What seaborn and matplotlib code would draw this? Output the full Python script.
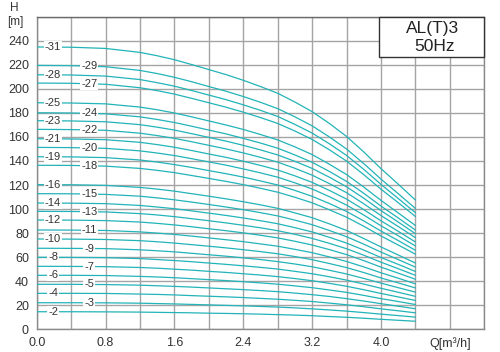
import matplotlib
matplotlib.use("Agg")
import matplotlib.pyplot as plt
import seaborn as sns
import numpy as np
import pandas as pd
from matplotlib.patches import Rectangle

# ---------------- data ----------------
flow = [0.0, 0.4, 0.8, 1.2, 1.4, 1.6, 1.8, 2.0, 2.2, 2.4,
        2.6, 2.8, 3.0, 3.2, 3.4, 3.6, 3.8, 4.0, 4.2, 4.4]

h2 = [14.6, 14.6, 14.5, 14.3, 14.1, 13.9, 13.7, 13.4, 13.2, 12.9, 12.6, 12.2, 11.8, 11.3, 10.6, 10.0, 9.2, 8.3, 7.5, 6.7]
h3 = [22.1, 22.1, 22.0, 21.7, 21.4, 21.1, 20.7, 20.3, 19.9, 19.5, 19.0, 18.5, 17.8, 17.0, 16.1, 15.1, 13.9, 12.6, 11.4, 10.1]
h4 = [29.9, 29.9, 29.8, 29.3, 29.0, 28.6, 28.0, 27.5, 27.0, 26.4, 25.7, 25.0, 24.1, 23.1, 21.8, 20.4, 18.8, 17.0, 15.4, 13.7]
h5 = [37.4, 37.4, 37.2, 36.7, 36.2, 35.7, 35.1, 34.4, 33.7, 33.0, 32.2, 31.3, 30.1, 28.8, 27.3, 25.5, 23.5, 21.3, 19.2, 17.1]
h6 = [44.9, 44.9, 44.7, 44.0, 43.5, 42.9, 42.1, 41.3, 40.5, 39.6, 38.6, 37.5, 36.1, 34.6, 32.7, 30.7, 28.2, 25.5, 23.1, 20.6]
h7 = [52.4, 52.3, 52.1, 51.4, 50.8, 50.0, 49.2, 48.2, 47.3, 46.2, 45.1, 43.8, 42.2, 40.4, 38.2, 35.8, 32.9, 29.8, 26.9, 24.0]
h8 = [59.9, 59.8, 59.6, 58.8, 58.0, 57.2, 56.2, 55.1, 54.0, 52.8, 51.5, 50.1, 48.2, 46.2, 43.7, 40.9, 37.6, 34.1, 30.8, 27.4]
h9 = [67.4, 67.3, 67.1, 66.1, 65.3, 64.4, 63.2, 62.0, 60.8, 59.4, 58.0, 56.3, 54.3, 52.0, 49.1, 46.0, 42.3, 38.4, 34.6, 30.9]
h10 = [75.1, 75.0, 74.7, 73.7, 72.8, 71.7, 70.4, 69.1, 67.7, 66.2, 64.6, 62.8, 60.5, 57.9, 54.7, 51.3, 47.2, 42.7, 38.6, 34.4]
h11 = [82.6, 82.5, 82.2, 81.0, 80.0, 78.9, 77.5, 76.0, 74.5, 72.9, 71.0, 69.1, 66.5, 63.7, 60.2, 56.4, 51.9, 47.0, 42.5, 37.8]
h12 = [90.9, 90.8, 90.4, 89.2, 88.1, 86.8, 85.3, 83.6, 82.0, 80.2, 78.2, 76.0, 73.2, 70.1, 66.3, 62.1, 57.1, 51.7, 46.7, 41.6]
h13 = [98.1, 98.0, 97.6, 96.2, 95.1, 93.7, 92.0, 90.3, 88.5, 86.5, 84.4, 82.0, 79.0, 75.6, 71.5, 67.0, 61.6, 55.8, 50.4, 44.9]
h14 = [105.0, 104.9, 104.5, 103.0, 101.7, 100.3, 98.5, 96.6, 94.7, 92.6, 90.3, 87.8, 84.5, 81.0, 76.5, 71.7, 65.9, 59.7, 54.0, 48.1]
h15 = [112.8, 112.7, 112.2, 110.7, 109.3, 107.7, 105.8, 103.8, 101.7, 99.5, 97.0, 94.3, 90.8, 87.0, 82.2, 77.0, 70.8, 64.2, 58.0, 51.7]
h16 = [120.3, 120.2, 119.7, 118.0, 116.6, 114.9, 112.8, 110.7, 108.5, 106.1, 103.5, 100.6, 96.8, 92.8, 87.7, 82.2, 75.5, 68.5, 61.8, 55.1]
h18 = [136.4, 136.3, 135.7, 133.8, 132.2, 130.3, 127.9, 125.5, 123.0, 120.3, 117.3, 114.0, 109.8, 105.2, 99.4, 93.2, 85.7, 77.6, 70.1, 62.5]
h19 = [143.5, 143.4, 142.8, 140.8, 139.1, 137.0, 134.6, 132.0, 129.4, 126.6, 123.4, 120.0, 115.5, 110.6, 104.6, 98.0, 90.1, 81.7, 73.8, 65.7]
h20 = [151.3, 151.1, 150.5, 148.4, 146.6, 144.5, 141.9, 139.2, 136.5, 133.4, 130.1, 126.5, 121.8, 116.7, 110.3, 103.3, 95.0, 86.1, 77.8, 69.3]
h21 = [158.5, 158.3, 157.7, 155.5, 153.6, 151.4, 148.7, 145.8, 143.0, 139.8, 136.3, 132.5, 127.6, 122.2, 115.5, 108.3, 99.5, 90.2, 81.5, 72.6]
h22 = [166.3, 166.1, 165.5, 163.1, 161.1, 158.8, 156.0, 153.0, 150.0, 146.7, 143.0, 139.0, 133.9, 128.2, 121.2, 113.6, 104.4, 94.6, 85.5, 76.2]
h23 = [173.5, 173.3, 172.6, 170.2, 168.1, 165.7, 162.7, 159.6, 156.5, 153.0, 149.2, 145.0, 139.7, 133.8, 126.5, 118.5, 109.0, 98.7, 89.2, 79.5]
h24 = [180.1, 179.9, 179.2, 176.7, 174.5, 172.0, 168.9, 165.7, 162.5, 158.8, 154.9, 150.6, 145.0, 138.9, 131.3, 123.0, 113.1, 102.5, 92.6, 82.5]
h25 = [188.4, 188.2, 187.5, 184.8, 182.6, 179.9, 176.7, 173.3, 169.9, 166.2, 162.0, 157.5, 151.7, 145.3, 137.3, 128.7, 118.3, 107.2, 96.8, 86.3]
h27 = [204.8, 204.6, 203.8, 200.9, 198.5, 195.6, 192.1, 188.4, 184.7, 180.6, 176.1, 171.2, 164.9, 157.9, 149.3, 139.9, 128.6, 116.5, 105.3, 93.8]
h28 = [211.7, 211.5, 210.6, 207.7, 205.1, 202.2, 198.6, 194.8, 191.0, 186.7, 182.1, 177.0, 170.4, 163.2, 154.3, 144.6, 133.0, 120.5, 108.8, 97.0]
h29 = [219.5, 219.3, 218.4, 215.3, 212.7, 209.6, 205.9, 201.9, 198.0, 193.6, 188.8, 183.5, 176.7, 169.2, 160.0, 149.9, 137.8, 124.9, 112.8, 100.5]
h31 = [234.8, 234.6, 233.6, 230.3, 227.5, 224.2, 220.2, 216.0, 211.8, 207.1, 201.9, 196.3, 189.0, 181.0, 171.2, 160.4, 147.5, 133.6, 120.7, 107.5]

curves = {2: h2, 3: h3, 4: h4, 5: h5, 6: h6, 7: h7, 8: h8, 9: h9, 10: h10,
          11: h11, 12: h12, 13: h13, 14: h14, 15: h15, 16: h16, 18: h18,
          19: h19, 20: h20, 21: h21, 22: h22, 23: h23, 24: h24, 25: h25,
          27: h27, 28: h28, 29: h29, 31: h31}

left_labels = [31, 28, 25, 23, 21, 19, 16, 14, 12, 10, 8, 6, 4, 2]
right_labels = [29, 27, 24, 22, 20, 18, 15, 13, 11, 9, 7, 5, 3]

x_tick_vals = [0.0, 0.8, 1.6, 2.4, 3.2, 4.0, 4.8]
x_tick_labels = ["0.0", "0.8", "1.6", "2.4", "3.2", "4.0", "Q[m³/h]"]
y_tick_vals = list(range(0, 241, 20))
title_lines = ["AL(T)3", "50Hz"]

# ---------------- style ----------------
sns.set_style("white")
plt.rcParams["font.family"] = ["Liberation Sans", "DejaVu Sans"]

TEAL = "#22b4b8"
GRID = "#a4a4a4"
SPINE = "#8a8a8a"
TXT = "#333333"

rows = []
for st, hs in curves.items():
    for q, h in zip(flow, hs):
        rows.append({"stage": st, "Q": q, "H": h})
df = pd.DataFrame(rows)

fig = plt.figure(figsize=(5.0, 3.52), dpi=100)
ax = fig.add_axes([0.0734, 0.0645, 0.8952, 0.8881])

sns.lineplot(data=df, x="Q", y="H", units="stage", estimator=None,
             color=TEAL, linewidth=0.9, ax=ax, legend=False, zorder=3)

ax.set_xlim(0, 5.2)
ax.set_ylim(0, 260)
ax.set_xticks(x_tick_vals)
ax.set_xticklabels(x_tick_labels)
ax.set_xticks(np.arange(0, 5.21, 0.4), minor=True)
ax.set_yticks(y_tick_vals)
ax.set_yticks(np.arange(0, 261, 20), minor=True)
ax.grid(True, which="both", color=GRID, linewidth=1.0, zorder=0)
ax.set_axisbelow(True)
ax.tick_params(axis="both", which="major", direction="out", length=3.6,
               width=0.9, color=SPINE, labelsize=9, labelcolor=TXT, pad=2)
ax.tick_params(axis="both", which="minor", length=0)
ax.set_xlabel("")
ax.set_ylabel("")
for s in ax.spines.values():
    s.set_color(SPINE)
    s.set_linewidth(1.0)
ax.spines["top"].set_color("#6a6a6a")

# stage labels on the curves
for st in left_labels:
    y = np.interp(0.19, flow, curves[st])
    ax.text(0.19, y, f"-{st}", fontsize=8, color=TXT, ha="center", va="center",
            zorder=5, bbox=dict(boxstyle="square,pad=0.08", fc="white", ec="none"))
for st in right_labels:
    y = np.interp(0.61, flow, curves[st])
    ax.text(0.61, y, f"-{st}", fontsize=8, color=TXT, ha="center", va="center",
            zorder=5, bbox=dict(boxstyle="square,pad=0.08", fc="white", ec="none"))

# title box
ax.add_patch(Rectangle((0.765, 0.870), 0.235, 0.130, transform=ax.transAxes,
                       facecolor="white", edgecolor="#333333", linewidth=1.0,
                       zorder=6, clip_on=False))
ax.text(0.884, 0.962, title_lines[0], transform=ax.transAxes, fontsize=12.5,
        color="#222222", ha="center", va="center", zorder=7)
ax.text(0.890, 0.904, title_lines[1], transform=ax.transAxes, fontsize=12.5,
        color="#222222", ha="center", va="center", zorder=7)

# axis label H [m]
fig.text(0.028, 0.976, "H", fontsize=8.5, color=TXT, ha="center", va="center")
fig.text(0.030, 0.938, "[m]", fontsize=8.5, color=TXT, ha="center", va="center")

fig.savefig("out.png", dpi=100)
